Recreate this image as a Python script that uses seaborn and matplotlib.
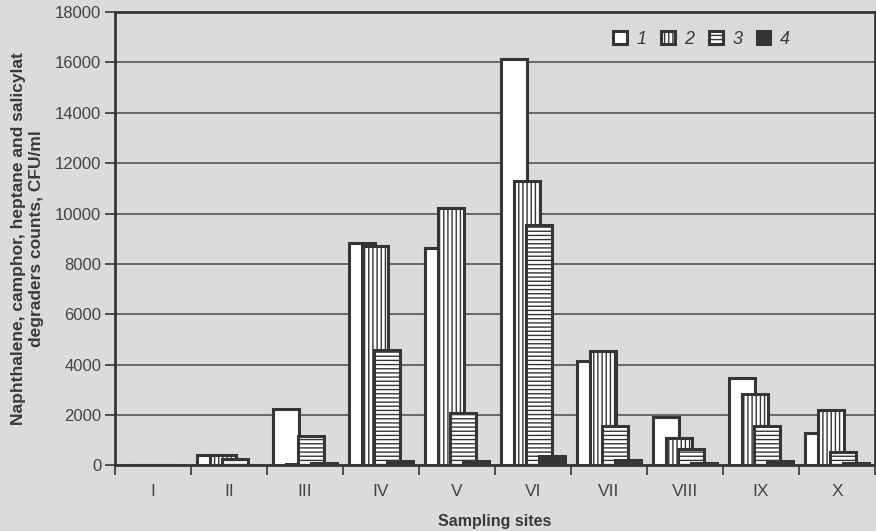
#!/usr/bin/env python3
"""Degrader counts (CFU/ml) per sampling site, four overlapping bar series."""

from pathlib import Path

import matplotlib

matplotlib.use("Agg")
import matplotlib.pyplot as plt
import numpy as np
import seaborn as sns

OUTPUT_PATH = Path("out.png")

SITES = ["I", "II", "III", "IV", "V", "VI", "VII", "VIII", "IX", "X"]
SERIES_NAMES = ["1", "2", "3", "4"]
SERIES_1 = [0, 400, 2230, 8850, 8620, 16150, 4150, 1930, 3480, 1280]
SERIES_2 = [0, 430, 60, 8730, 10230, 11300, 4550, 1100, 2850, 2200]
SERIES_3 = [0, 250, 1170, 4570, 2080, 9550, 1580, 650, 1580, 550]
SERIES_4 = [0, 0, 100, 180, 160, 370, 200, 100, 190, 110]
Y_TICKS = [0, 2000, 4000, 6000, 8000, 10000, 12000, 14000, 16000, 18000]

BG = "#dbdbdd"
INK = "#353535"
HATCHES = ["", "||||", "----", ""]
FILLS = ["white", "white", "white", INK]


def main() -> None:
    sns.set_theme(style="ticks")
    plt.rcParams["font.family"] = ["Liberation Sans", "DejaVu Sans"]
    plt.rcParams["hatch.linewidth"] = 1.0
    plt.rcParams["hatch.color"] = INK

    fig = plt.figure(figsize=(8.76, 5.31), dpi=100, facecolor=BG)
    ax = fig.add_axes([0.1313, 0.1234, 0.8676, 0.854])
    ax.set_facecolor(BG)

    series = [SERIES_1, SERIES_2, SERIES_3, SERIES_4]
    centers = np.arange(len(SITES)) + 0.5
    offset = 12.5 / 76
    width = 26 / 76
    handles = []
    for k, values in enumerate(series):
        xs = centers + (k - 1.5) * offset
        before = len(ax.patches)
        sns.barplot(
            x=xs, y=values, native_scale=True, width=width, errorbar=None,
            color=FILLS[k], edgecolor=INK, linewidth=2.2, hatch=HATCHES[k],
            zorder=3 + k, ax=ax,
        )
        for p in ax.patches[before:]:
            p.set_facecolor(FILLS[k])
        handles.append(ax.patches[before])

    ax.set_xlim(0, len(SITES))
    ax.set_ylim(0, 18000)
    ax.set_yticks(Y_TICKS)
    ax.set_yticklabels([str(v) for v in Y_TICKS], fontsize=12, color="#444444")
    ax.set_xticks(centers)
    ax.set_xticklabels(SITES, fontsize=12.5, color="#444444")
    ax.set_xticks(np.arange(len(SITES) + 1), minor=True)
    ax.tick_params(axis="x", which="major", length=0, pad=13)
    ax.tick_params(axis="x", which="minor", length=7, width=1.2, color=INK, direction="out")
    ax.tick_params(axis="y", length=7, width=1.2, color=INK, direction="out", pad=3)

    ax.grid(axis="y", color="#4a4a4a", linewidth=1.1)
    ax.grid(axis="x", visible=False)
    ax.set_axisbelow(True)
    for spine in ax.spines.values():
        spine.set_visible(True)
        spine.set_color(INK)
        spine.set_linewidth(2.0)

    ax.set_xlabel("Sampling sites", fontsize=11.5, fontweight="bold", color="#3a3a3a",
                  labelpad=11)
    ax.set_ylabel("Naphthalene, camphor, heptane and salicylat\ndegraders counts, CFU/ml",
                  fontsize=12.5, fontweight="bold", color="#3a3a3a", labelpad=8)

    ax.legend(
        handles, SERIES_NAMES, ncol=4, loc="center right", bbox_to_anchor=(0.91, 0.94),
        frameon=False, handlelength=0.75, handleheight=0.75, handletextpad=0.55,
        columnspacing=0.8, prop={"style": "italic", "size": 13},
    )
    for text in ax.get_legend().get_texts():
        text.set_color("#3a3a3a")

    fig.savefig(OUTPUT_PATH, dpi=100, facecolor=BG)
    plt.close(fig)


if __name__ == "__main__":
    main()
